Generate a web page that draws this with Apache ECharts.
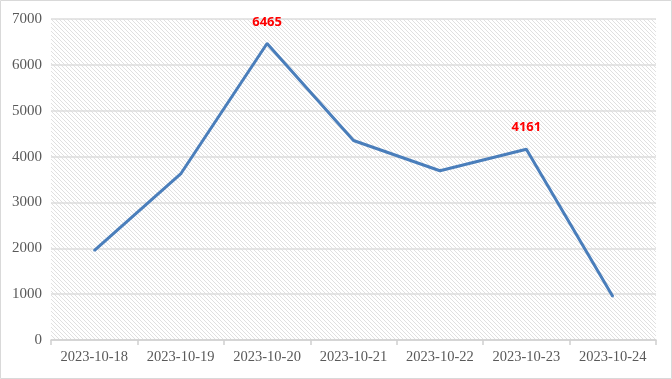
<!DOCTYPE html>
<html><head><meta charset="utf-8">
<script src="https://cdn.jsdelivr.net/npm/echarts@6/dist/echarts.min.js"></script>
<style>html,body{margin:0;padding:0;background:#fff}#c{width:672px;height:379px}</style>
</head><body><div id="c"></div>
<script>
var categories = ['2023-10-18','2023-10-19','2023-10-20','2023-10-21','2023-10-22','2023-10-23','2023-10-24'];
var values = [1950, 3620, 6465, 4350, 3690, 4161, 950];
var labeledIndices = [2, 5];
var yTicks = {min: 0, max: 7000, interval: 1000};

var pc = document.createElement('canvas');
pc.width = 4; pc.height = 4;
var g = pc.getContext('2d');
g.fillStyle = '#ffffff'; g.fillRect(0,0,4,4);
g.strokeStyle = '#e0e0e0'; g.lineWidth = 1;
g.beginPath();
g.moveTo(-1,-1); g.lineTo(5,5);
g.moveTo(-1,3); g.lineTo(1,5);
g.moveTo(3,-1); g.lineTo(5,1);
g.stroke();

var chart = echarts.init(document.getElementById('c'));
chart.setOption({
  animation: false,
  graphic: [{type:'rect', shape:{x:0.5,y:0.5,width:671,height:378}, style:{fill:'none', stroke:'#d9d9d9', lineWidth:1}, z:-10}],
  grid: {left: 51, right: 16, top: 19, bottom: 39, show: true, borderWidth: 0,
         backgroundColor: {image: pc, repeat: 'repeat'}},
  xAxis: {type: 'category', data: categories, boundaryGap: true,
    axisLine: {lineStyle: {color: '#d0d0d0', width: 1.5}},
    axisTick: {show: true, length: 5, interval: 0, lineStyle: {color: '#d0d0d0', width: 1.5}},
    axisLabel: {color: '#595959', fontFamily: 'Liberation Serif', fontSize: 14.5, margin: 10, interval: 0}},
  yAxis: {type: 'value', min: yTicks.min, max: yTicks.max, interval: yTicks.interval,
    axisLine: {show: false}, axisTick: {show: false},
    splitLine: {lineStyle: {color: '#dcdcdc', width: 1.5}},
    axisLabel: {color: '#595959', fontFamily: 'Liberation Serif', fontSize: 15, margin: 9,
      formatter: function(v){ return String(v); }}},
  series: [{type: 'line', data: values.map(function(v,i){
      var o = {value: v};
      if (labeledIndices.indexOf(i) >= 0) o.label = {show: true};
      return o;
    }),
    showSymbol: true, symbol: 'circle', symbolSize: 2,
    itemStyle: {color: '#4a7ebb'},
    lineStyle: {color: '#4a7ebb', width: 3},
    label: {show: false, position: 'top', distance: 14, color: '#ff0000', fontWeight: 'bold', fontSize: 13, fontFamily: 'Noto Sans'}
  }]
});
</script></body></html>
